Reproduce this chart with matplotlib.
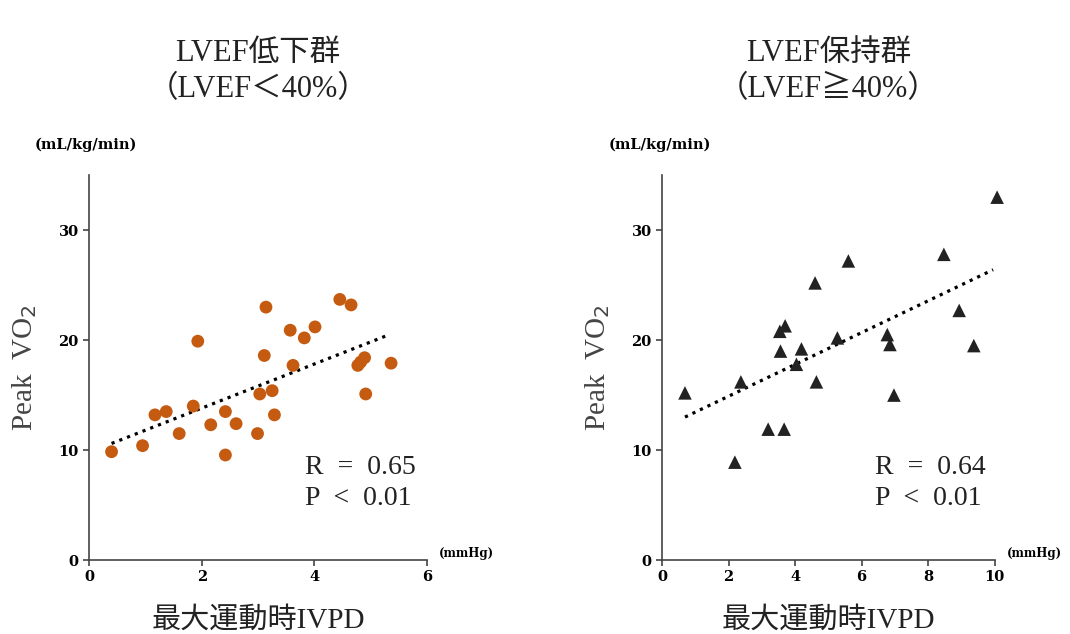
import numpy as np
import matplotlib
matplotlib.use("Agg")
import matplotlib.pyplot as plt

plt.rcParams['font.family'] = ['Liberation Serif', 'Noto Sans CJK JP', 'DejaVu Sans']

# LVEF低下群 (LVEF<40%)
ivpd_low = [0.40, 0.95, 1.17, 1.37, 1.60, 1.85, 1.93, 2.16, 2.42, 2.42, 2.61, 2.99, 3.03, 3.11,
            3.14, 3.25, 3.29, 3.57, 3.62, 3.82, 4.01, 4.45, 4.65, 4.77, 4.82, 4.89, 4.91, 5.36]
vo2_low = [9.85, 10.4, 13.2, 13.5, 11.5, 14.0, 19.9, 12.3, 13.5, 9.55, 12.4, 11.5, 15.1, 18.6,
           23.0, 15.4, 13.2, 20.9, 17.7, 20.2, 21.2, 23.7, 23.2, 17.7, 18.0, 18.4, 15.1, 17.9]

# LVEF保持群 (LVEF>=40%)
ivpd_pres = [0.69, 2.19, 2.37, 3.19, 3.67, 3.54, 3.70, 3.56, 4.19, 4.04, 4.60, 4.64, 5.27, 5.60,
             6.77, 6.85, 6.97, 8.47, 8.93, 9.37, 10.07]
vo2_pres = [15.2, 8.9, 16.2, 11.9, 11.9, 20.8, 21.3, 19.0, 19.2, 17.8, 25.2, 16.2, 20.2, 27.2,
            20.5, 19.6, 15.0, 27.8, 22.7, 19.5, 33.0]

# dotted trend lines (end points)
trend_low_x = [0.40, 5.33]
trend_low_y = [10.6, 20.5]
trend_pres_x = [0.69, 9.95]
trend_pres_y = [13.0, 26.4]

titles = ['LVEF低下群\n（LVEF＜40%）', 'LVEF保持群\n（LVEF≧40%）']
stats = ['R  =  0.65\nP  <  0.01', 'R  =  0.64\nP  <  0.01']
xlabel = '最大運動時IVPD'
ylabel = 'Peak  VO$_2$'

fig = plt.figure(figsize=(10.7, 6.34), dpi=100)
ax1 = fig.add_axes([0.0832, 0.1167, 0.316, 0.607])
ax2 = fig.add_axes([0.6187, 0.1167, 0.311, 0.607])

ax1.scatter(ivpd_low, vo2_low, s=85, color='#C55A11', edgecolors='none', zorder=3, clip_on=False)
ax1.plot(trend_low_x, trend_low_y, color='black', linestyle=(0, (1, 1.6)), linewidth=2.3, zorder=2)
ax2.scatter(ivpd_pres, vo2_pres, s=95, marker='^', color='#222222', edgecolors='none', zorder=3,
            clip_on=False)
ax2.plot(trend_pres_x, trend_pres_y, color='black', linestyle=(0, (1, 1.6)), linewidth=2.3, zorder=2)

ax1.set_xlim(0, 6)
ax1.set_xticks([0, 2, 4, 6])
ax2.set_xlim(0, 10)
ax2.set_xticks([0, 2, 4, 6, 8, 10])

for i, ax in enumerate([ax1, ax2]):
    ax.set_ylim(0, 35)
    ax.set_yticks([0, 10, 20, 30])
    for s in ['top', 'right']:
        ax.spines[s].set_visible(False)
    for s in ['left', 'bottom']:
        ax.spines[s].set_color('#444444')
        ax.spines[s].set_linewidth(1.2)
    ax.tick_params(direction='out', length=4, width=1.2, color='#444444', labelsize=10.5)
    for lab in ax.get_xticklabels() + ax.get_yticklabels():
        lab.set_fontweight('bold')
        lab.set_family(['DejaVu Serif'])
    ax.set_ylabel(ylabel, fontsize=21, color='#444444', labelpad=14)
    ax.set_xlabel(xlabel, fontsize=21, color='#222222', labelpad=16)
    ax.text(0.64, 0.20, stats[i], transform=ax.transAxes, fontsize=20, color='#222222',
            linespacing=1.3, va='center', ha='left')
    ax.text(-0.16, 1.08, '(mL/kg/min)', transform=ax.transAxes, fontsize=10.5,
            fontweight='bold', family=['DejaVu Serif'], ha='left', va='center')
    ax.text(1.035, 0.0, '(mmHg)', transform=ax.transAxes, fontsize=8.5,
            fontweight='bold', family=['DejaVu Serif'], ha='left', va='bottom')
    ax.set_title(titles[i], fontsize=22, color='#222222', pad=56, linespacing=1.35)

fig.savefig('out.png', dpi=100)
